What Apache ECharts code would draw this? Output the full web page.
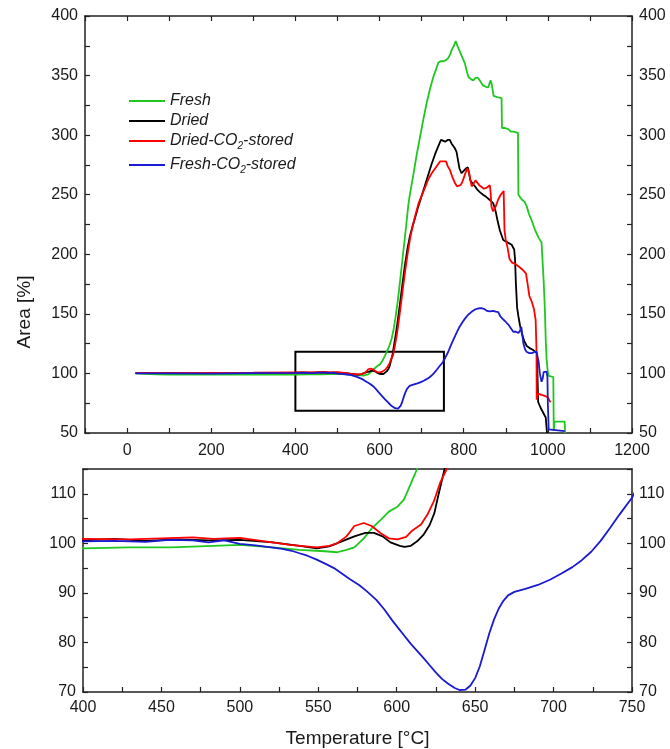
<!DOCTYPE html>
<html>
<head>
<meta charset="utf-8">
<script src="https://cdn.jsdelivr.net/npm/echarts@6/dist/echarts.min.js"></script>
<style>
  html, body { margin: 0; padding: 0; background: #fff; }
  #chart { width: 670px; height: 749px; }
</style>
</head>
<body>
<div id="chart"></div>
<script>
// Relative area [%] versus temperature [°C] for the four sample states
const fresh = [
  [20,100],[40,99.7],[70,99.2],[100,99.0],[150,99.1],[200,99.0],[250,99.2],[300,99.1],[350,99.3],
  [400,99.0],[429,99.2],[456,99.2],[483,99.5],[500,99.7],[521,99.2],[538,98.7],[554,98.4],[562,98.2],
  [568,98.7],[573,99.2],[579,101],[584,103],[590,104.8],[595,106.4],[600.5,107.4],[604.6,108.8],
  [607.3,110.8],[610,112.8],[613,115],[618,119],[623,123],[628,128],[633,136],[638,147],[643,160],
  [648,175],[653,191],[658,207],[663,223],[668,240],[672,250],[680,266],[688,283],[696,298],[704,313],
  [712,327],[720,339],[728,349],[735,356],[740,361],[745,362],[752,362],[758,363],[764,365],[768,368],
  [772,372],[777,375],[781,379],[786,374],[791,370],[797,365],[803,360],[807,354],[811,349],[817,347],
  [823,346],[828,348],[834,348],[838,346],[845,342],[850,341],[858,340],[861,343],[864,346],[867,342],
  [871,333],[880,332],[890,331],[891,306],[898,306],[906,305],[912,303],[918,303],[929,302],[930,250],
  [938,246],[945,244],[950,240],[955,234],[961,229],[970,220],[978,214],[985,210],[989,209],[990,178],
  [993,153],[995,128],[997,112],[1000,101],[1002,98],[1013,97],[1014,52],[1016,59.5],[1040,59.5],[1041,50]
];
const dried = [
  [20,100.2],[100,100.3],[200,100.2],[300,100.4],[400,100.6],[420,100.9],[440,100.5],[460,100.8],
  [480,100.6],[500,100.7],[521,100.2],[538,99.5],[549,99.0],[557,99.4],[565,100.4],[573,101.4],
  [580,102.1],[585.5,102.1],[591,101.4],[596,100.2],[602,99.5],[605,99.3],[609,99.5],[613,100.4],
  [617,101.7],[621,103.7],[624,106.1],[626.4,109.5],[630.5,115],[636,127],[642,141],[648,157],
  [654,174],[660,190],[666,204],[672,215],[678,223],[684,230],[692,240],[700,249],[708,258],[716,267],
  [724,276],[732,284],[740,291],[746,296],[750,297.5],[756,294.5],[762,296],[767,296],[771,293],
  [775,292],[779,289],[783,286],[787,278],[790,272],[795,268],[800,270],[805,272],[810,273],[813,274],
  [816,262],[822,259],[827,257],[833,254],[839,252],[846,250],[854,248],[862,245.6],[870,243],[876,236],
  [880,229],[886,220],[894,212],[904,210],[914,208],[920,204],[922,196],[924,176],[927,155],[930,148],
  [934,140],[938,134],[944,127],[950,123],[958,121],[965,119.7],[974,117],[976,90],[977,76],[983,71],
  [989,67],[995,63],[997,62],[998,50]
];
const driedCO2 = [
  [20,100.3],[100,100.4],[200,100.5],[300,100.6],[400,100.9],[430,100.8],[470,101.2],[483,100.9],
  [500,101.1],[516,100.4],[532,99.7],[549,99.2],[557,99.5],[562,100],[568,101.4],[573,103.5],
  [579,104.1],[584,103.5],[590,102],[595,101],[600.5,100.8],[606,101.3],[610,102.6],[615.5,103.8],
  [619.6,105.8],[623.7,108.5],[627.8,112.3],[631.9,115],[637,124],[643,137],[649,153],[655,170],
  [661,186],[667,201],[673,214],[679,224],[686,234],[693,243],[700,249],[708,256],[716,263],[724,268],
  [732,272],[740,276],[744,278],[758,278],[762,274],[767,271],[773,265],[779,260],[784,257],[788,256.5],
  [792,258],[796,260],[801,265],[806,270],[809,272],[813,268],[816,262],[819,257],[823,259],[828,262],
  [832,261],[837,258],[841,257],[848,255],[855,256],[862,258],[864,252],[866,240],[870,236],[876,240],
  [882,246],[888,250],[895,253],[897,220],[900,212],[904,206],[909,196],[915,193],[922,192],[930,190],
  [940,187],[948,184],[952,175],[956,165],[962,160],[967,154],[971,145],[973,120],[973.5,78],[977,83],
  [985,82],[994,81],[1000,80],[1004,77],[1007,76]
];
const freshCO2 = [
  [20,100],[100,100.1],[200,99.9],[300,100.2],[400,100.4],[420,100.5],[440,100.3],[455,100.7],
  [470,100.6],[480,100.2],[490,100.6],[500,99.9],[510,99.6],[520,99.2],[527,98.9],[533,98.5],[538,98.0],
  [543,97.5],[549,96.7],[555,95.8],[560,95.0],[565,93.9],[570,92.8],[576,91.6],[581,90.3],[587,88.6],
  [592,86.7],[597,84.5],[601,82.9],[605,81.3],[609,79.7],[613,78.3],[617,76.9],[621,75.4],[625,73.9],
  [629,72.6],[633,71.6],[637,70.8],[640,70.4],[644,70.5],[647,71.3],[650,72.8],[653,75.2],[656,78.5],
  [659,81.8],[662,84.6],[665,86.8],[668,88.4],[671,89.5],[675,90.2],[682,90.8],[690,91.6],[698,92.7],
  [705,93.9],[712,95.2],[718,96.6],[724,98.3],[730,100.5],[736,103.1],[742,105.8],[750,109.2],[756,113],
  [763,118],[770,124],[777,129.5],[783,134],[790,139],[797,143],[803,146],[810,149],[818,151.5],
  [826,153.5],[834,154.5],[842,154.8],[848,154.2],[855,152.5],[862,152],[870,152.5],[876,151.8],
  [882,151.5],[887,148],[892,146],[898,144],[906,141],[912,138],[918,135],[924,135],[930,134],[934,136],
  [937,139],[939,133],[942,125],[946,120],[950,118],[956,117],[962,117],[968,118],[973,118.3],[976,118],
  [978,110],[981,100],[985,93],[988,96],[990,101],[993,101.8],[997,101.5],[999,97],[1000,75],[1002,53],
  [1006,51.5],[1040,51.5]
];

const seriesNames = ['Fresh', 'Dried', 'Dried-CO2-stored', 'Fresh-CO2-stored'];
const legendLabels = ['Fresh', 'Dried', 'Dried-CO{sub|2}-stored', 'Fresh-CO{sub|2}-stored'];
const seriesColors = ['#1ec81e', '#000000', '#ff0000', '#1a1ad2'];
const seriesData = [fresh, dried, driedCO2, freshCO2];

// zoomed window outlined in the overview panel: [T, area] corners
const zoomBox = [[400, 68.7], [753, 118.3]];

const overviewTempLabels = [0, 200, 400, 600, 800, 1000, 1200];
const overviewAreaLabels = [50, 100, 150, 200, 250, 300, 350, 400];
const zoomTempLabels = [400, 450, 500, 550, 600, 650, 700, 750];
const zoomAreaLabels = [70, 80, 90, 100, 110];

const FONT = '"Liberation Sans", Arial, sans-serif';
const INK = '#1a1a1a';
const frameLine = { show: true, onZero: false, lineStyle: { color: '#222', width: 1.5 } };
const tickIn = { show: true, inside: true, length: 5, lineStyle: { color: '#222', width: 1.2 } };
const labelStyle = (list, margin) => ({
  show: true, color: INK, fontSize: 16, fontFamily: FONT, margin: margin,
  showMinLabel: true, showMaxLabel: true,
  formatter: (v) => (list.indexOf(v) >= 0 ? String(v) : '')
});

function axisX(grid, min, max, interval, labels, position, showLabels, showTicks, margin) {
  return {
    type: 'value', gridIndex: grid, min: min, max: max, interval: interval, position: position,
    axisLine: frameLine,
    axisTick: showTicks ? tickIn : { show: false },
    axisLabel: showLabels ? labelStyle(labels, margin) : { show: false },
    splitLine: { show: false }
  };
}
function axisY(grid, min, max, interval, labels, position) {
  return {
    type: 'value', gridIndex: grid, min: min, max: max, interval: interval, position: position,
    axisLine: frameLine, axisTick: tickIn,
    axisLabel: labelStyle(labels, 7),
    splitLine: { show: false }
  };
}

const xAxes = [
  axisX(0, -100, 1200, 100, overviewTempLabels, 'bottom', true, true, 10),
  axisX(0, -100, 1200, 100, overviewTempLabels, 'top', false, true, 8),
  axisX(1, 400, 750, 25, zoomTempLabels, 'bottom', true, true, 8),
  axisX(1, 400, 750, 25, zoomTempLabels, 'top', false, false, 8)
];
xAxes[2].name = 'Temperature [°C]';
xAxes[2].nameLocation = 'middle';
xAxes[2].nameGap = 37;
xAxes[2].nameTextStyle = { color: INK, fontSize: 19, fontFamily: FONT };

const yAxes = [
  axisY(0, 50, 400, 25, overviewAreaLabels, 'left'),
  axisY(0, 50, 400, 25, overviewAreaLabels, 'right'),
  axisY(1, 70, 115, 5, zoomAreaLabels, 'left'),
  axisY(1, 70, 115, 5, zoomAreaLabels, 'right')
];

const series = [];
seriesData.forEach((d, i) => {
  const base = {
    type: 'line', name: seriesNames[i], data: d, showSymbol: false, symbol: 'none',
    clip: true, lineStyle: { color: seriesColors[i], width: 1.8 }, itemStyle: { color: seriesColors[i] },
    silent: true, z: 2 + i
  };
  const top = Object.assign({}, base, { xAxisIndex: 0, yAxisIndex: 0 });
  if (i === seriesData.length - 1) {
    top.markArea = {
      silent: true,
      itemStyle: { color: 'rgba(0,0,0,0)', borderColor: '#000', borderWidth: 2 },
      data: [[{ coord: zoomBox[0] }, { coord: zoomBox[1] }]]
    };
  }
  series.push(top);
  series.push(Object.assign({}, base, { xAxisIndex: 2, yAxisIndex: 2 }));
});

// hand-placed legend block in the upper-left of the overview panel
const legendRows = [101, 121, 141, 165];
const graphics = [];
legendRows.forEach((y, i) => {
  graphics.push({
    type: 'line', shape: { x1: 129, y1: y, x2: 165, y2: y },
    style: { stroke: seriesColors[i], lineWidth: 2 }, silent: true
  });
  graphics.push({
    type: 'text', x: 170, y: y, silent: true,
    style: {
      text: legendLabels[i], fill: INK, font: 'italic 16px ' + FONT,
      verticalAlign: 'middle', align: 'left', lineHeight: 20,
      rich: { sub: { fontSize: 10, fontStyle: 'italic', fontFamily: FONT, fill: INK, verticalAlign: 'bottom', lineHeight: 6 } }
    }
  });
});
graphics.push({
  type: 'text', x: 25, y: 312, rotation: Math.PI / 2, silent: true,
  style: { text: 'Area [%]', fill: INK, font: '19px ' + FONT, align: 'center', verticalAlign: 'middle' }
});

const chart = echarts.init(document.getElementById('chart'), null, { renderer: 'canvas' });
chart.setOption({
  animation: false,
  backgroundColor: '#ffffff',
  grid: [
    { left: 85, right: 38, top: 16, height: 417 },
    { left: 83, right: 38, top: 469, height: 224 }
  ],
  xAxis: xAxes,
  yAxis: yAxes,
  series: series,
  graphic: graphics
});
</script>
</body>
</html>
